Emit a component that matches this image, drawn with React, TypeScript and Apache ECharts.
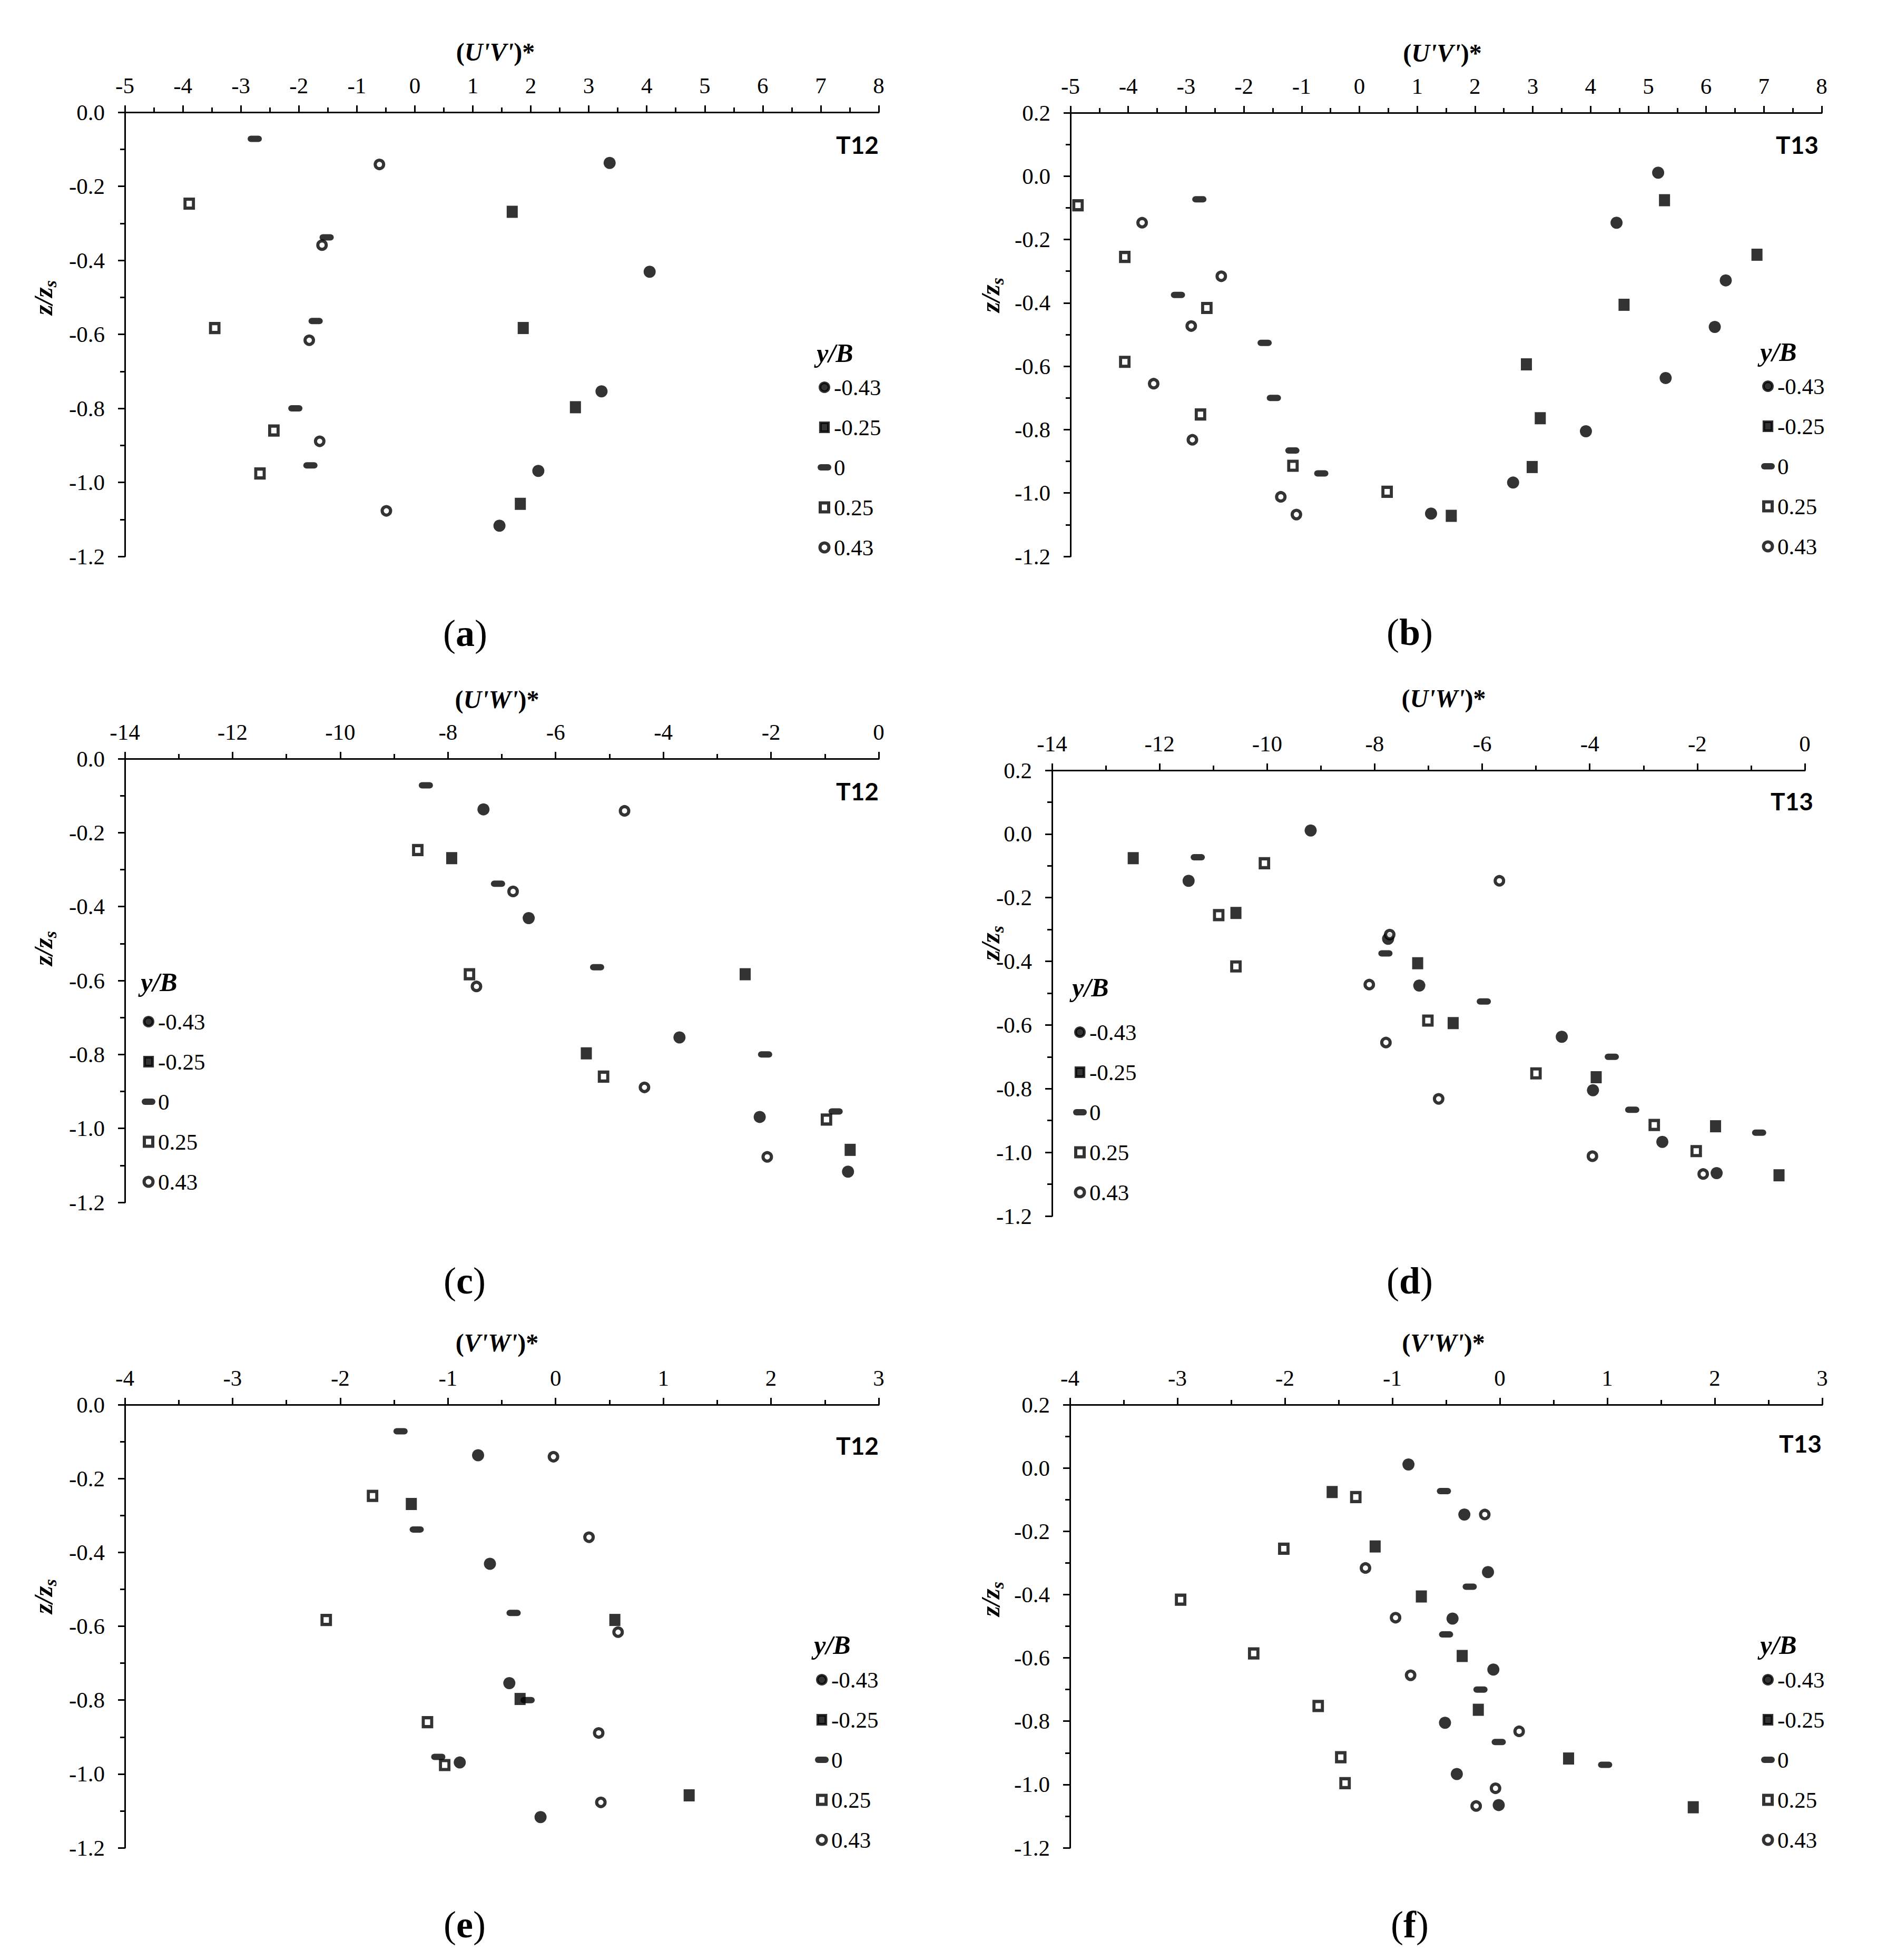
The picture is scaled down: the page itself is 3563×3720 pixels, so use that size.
import React, { useEffect, useRef } from "react";
import * as echarts from "echarts";

// ---------- data ----------
const YB = ["-0.43", "-0.25", "0", "0.25", "0.43"];

// z/zs of the measuring points, test T12 (one list per y/B)
const zT12_m043 = [-0.137, -0.431, -0.754, -0.969, -1.117];
const zT12_m025 = [-0.269, -0.583, -0.797, -1.058];
const zT12_000 = [-0.072, -0.338, -0.564, -0.8, -0.954];
const zT12_p025 = [-0.247, -0.583, -0.86, -0.976];
const zT12_p043 = [-0.141, -0.359, -0.616, -0.889, -1.077];

// z/zs of the measuring points, test T13
const zT13_m043 = [0.011, -0.147, -0.329, -0.476, -0.637, -0.805, -0.967, -1.065];
const zT13_m025 = [-0.076, -0.248, -0.406, -0.594, -0.764, -0.918, -1.072];
const zT13_000 = [-0.073, -0.375, -0.526, -0.7, -0.866, -0.938];
const zT13_p025 = [-0.092, -0.255, -0.416, -0.586, -0.752, -0.914, -0.996];
const zT13_p043 = [-0.147, -0.316, -0.473, -0.655, -0.832, -1.012, -1.068];

// (a) (U'V')* T12
const uvT12_m043 = [3.36, 4.05, 3.22, 2.13, 1.46];
const uvT12_m025 = [1.68, 1.87, 2.77, 1.82];
const uvT12_000 = [-2.76, -1.52, -1.71, -2.06, -1.8];
const uvT12_p025 = [-3.89, -3.45, -2.43, -2.67];
const uvT12_p043 = [-0.61, -1.6, -1.82, -1.64, -0.49];

// (b) (U'V')* T13
const uvT13_m043 = [5.17, 4.45, 6.34, 6.15, 5.3, 3.92, 2.66, 1.24];
const uvT13_m025 = [5.28, 6.88, 4.58, 2.89, 3.13, 2.99, 1.59];
const uvT13_000 = [-2.77, -3.14, -1.64, -1.48, -1.16, -0.66];
const uvT13_p025 = [-4.87, -4.06, -2.64, -4.06, -2.75, -1.15, 0.48];
const uvT13_p043 = [-3.76, -2.39, -2.91, -3.56, -2.89, -1.36, -1.09];

// (c) (U'W')* T12
const uwT12_m043 = [-7.34, -6.5, -3.7, -2.21, -0.57];
const uwT12_m025 = [-7.93, -2.48, -5.43, -0.53];
const uwT12_000 = [-8.41, -7.07, -5.23, -2.11, -0.8];
const uwT12_p025 = [-8.56, -7.6, -5.11, -0.97];
const uwT12_p043 = [-4.72, -6.79, -7.47, -4.35, -2.07];

// (d) (U'W')* T13
const uwT13_m043 = [-9.19, -11.46, -7.75, -7.17, -4.52, -3.94, -2.65, -1.64];
const uwT13_m025 = [-12.49, -10.58, -7.2, -6.54, -3.88, -1.66, -0.48];
const uwT13_000 = [-11.29, -7.8, -5.97, -3.59, -3.21, -0.85];
const uwT13_p025 = [-10.05, -10.9, -10.58, -7.01, -5.0, -2.8, -2.02];
const uwT13_p043 = [-5.68, -7.72, -8.1, -7.79, -6.81, -3.95, -1.89];

// (e) (V'W')* T12
const vwT12_m043 = [-0.72, -0.61, -0.43, -0.89, -0.14];
const vwT12_m025 = [-1.34, 0.55, -0.33, 1.24];
const vwT12_000 = [-1.44, -1.29, -0.39, -0.26, -1.09];
const vwT12_p025 = [-1.7, -2.13, -1.19, -1.03];
const vwT12_p043 = [-0.02, 0.31, 0.58, 0.4, 0.42];

// (f) (V'W')* T13
const vwT13_m043 = [-0.85, -0.33, -0.11, -0.44, -0.06, -0.51, -0.4, -0.01];
const vwT13_m025 = [-1.56, -1.16, -0.73, -0.35, -0.2, 0.64, 1.8];
const vwT13_000 = [-0.52, -0.28, -0.5, -0.18, -0.01, 0.98];
const vwT13_p025 = [-1.34, -2.01, -2.97, -2.29, -1.69, -1.48, -1.44];
const vwT13_p043 = [-0.14, -1.25, -0.97, -0.83, 0.18, -0.04, -0.22];

const zT12 = [zT12_m043, zT12_m025, zT12_000, zT12_p025, zT12_p043];
const zT13 = [zT13_m043, zT13_m025, zT13_000, zT13_p025, zT13_p043];

// ---------- styling / layout ----------
const SERIF = "'Liberation Serif', 'Times New Roman', serif";
const SANS = "Lato, 'Open Sans', sans-serif";
const DASH = "path://M6,0H20A6,6,0,0,1,20,12H6A6,6,0,0,1,6,0Z";

const markerStyles: any[] = [
  { symbol: "circle", symbolSize: 23, itemStyle: { color: "#000" } },
  { symbol: "rect", symbolSize: [21, 23], itemStyle: { color: "#000" } },
  { symbol: DASH, symbolSize: [27, 12], itemStyle: { color: "#000" } },
  { symbol: "rect", symbolSize: [16, 17], itemStyle: { color: "#fff", borderColor: "#000", borderWidth: 6 } },
  { symbol: "circle", symbolSize: 16, itemStyle: { color: "#fff", borderColor: "#000", borderWidth: 6 } },
];

const legendItems: any[] = [
  { name: "-0.43", icon: "circle", itemStyle: { color: "#000", borderColor: "#000", borderWidth: 5 } },
  { name: "-0.25", icon: "path://M0,0H18V20H0Z", itemStyle: { color: "#000", borderColor: "#000", borderWidth: 5 } },
  { name: "0", icon: DASH, itemStyle: { color: "#000", borderColor: "#000", borderWidth: 0 } },
  { name: "0.25", icon: "path://M0,0H16V17H0Z", itemStyle: { color: "#fff", borderColor: "#000", borderWidth: 6 } },
  { name: "0.43", icon: "circle", itemStyle: { color: "#fff", borderColor: "#000", borderWidth: 6 } },
];

const panels: any[] = [
  {
    sub: "a", xName: "U'V'", test: "T12", xMin: -5, xMax: 8, xStep: 1, yMax: 0,
    xs: [uvT12_m043, uvT12_m025, uvT12_000, uvT12_p025, uvT12_p043], zs: zT12,
    grid: [237, 213, 1431, 843], nameGap: 91, nameShift: -12,
    tag: [1668, 274], subPos: [883, 1202], yLab: [82, 565],
    leg: [1552, 713.5], legTitle: [1585, 670],
  },
  {
    sub: "b", xName: "U'V'", test: "T13", xMin: -5, xMax: 8, xStep: 1, yMax: 0.2,
    xs: [uvT13_m043, uvT13_m025, uvT13_000, uvT13_p025, uvT13_p043], zs: zT13,
    grid: [2032, 214, 1426, 842], nameGap: 90, nameShift: -7,
    tag: [3452, 274], subPos: [2676, 1200], yLab: [1880, 560],
    leg: [3343, 711.5], legTitle: [3376, 668],
  },
  {
    sub: "c", xName: "U'W'", test: "T12", xMin: -14, xMax: 0, xStep: 2, yMax: 0,
    xs: [uwT12_m043, uwT12_m025, uwT12_000, uwT12_p025, uwT12_p043], zs: zT12,
    grid: [237, 1440, 1431, 842], nameGap: 89, nameShift: -9,
    tag: [1668, 1501], subPos: [882, 2431], yLab: [82, 1800],
    leg: [269, 1917.5], legTitle: [302, 1864],
  },
  {
    sub: "d", xName: "U'W'", test: "T13", xMin: -14, xMax: 0, xStep: 2, yMax: 0.2,
    xs: [uwT13_m043, uwT13_m025, uwT13_000, uwT13_p025, uwT13_p043], zs: zT13,
    grid: [1997, 1462, 1429, 846], nameGap: 113, nameShift: 29,
    tag: [3442, 1520], subPos: [2676, 2431], yLab: [1880, 1790],
    leg: [2037, 1937.5], legTitle: [2070, 1874],
  },
  {
    sub: "e", xName: "V'W'", test: "T12", xMin: -4, xMax: 3, xStep: 1, yMax: 0,
    xs: [vwT12_m043, vwT12_m025, vwT12_000, vwT12_p025, vwT12_p043], zs: zT12,
    grid: [237, 2666, 1431, 841], nameGap: 94, nameShift: -9,
    tag: [1668, 2743], subPos: [882, 3653], yLab: [82, 3030],
    leg: [1547, 3166.5], legTitle: [1580, 3122],
  },
  {
    sub: "f", xName: "V'W'", test: "T13", xMin: -4, xMax: 3, xStep: 1, yMax: 0.2,
    xs: [vwT13_m043, vwT13_m025, vwT13_000, vwT13_p025, vwT13_p043], zs: zT13,
    grid: [2031, 2666, 1428, 841], nameGap: 94, nameShift: -5,
    tag: [3458, 2739], subPos: [2676, 3653], yLab: [1880, 3035],
    leg: [3343, 3166.5], legTitle: [3376, 3122],
  },
];

function buildOption() {
  const axisLineStyle = { color: "#000", width: 3 };
  const labelStyle = { fontSize: 43, fontFamily: SERIF, color: "#000", lineHeight: 43 };

  const grid = panels.map((p) => ({
    left: p.grid[0], top: p.grid[1], width: p.grid[2], height: p.grid[3], containLabel: false,
  }));

  const xAxis = panels.map((p, i) => ({
    gridIndex: i, type: "value", position: "top",
    min: p.xMin, max: p.xMax, interval: p.xStep,
    axisLine: { show: true, onZero: false, lineStyle: axisLineStyle },
    axisTick: { show: true, inside: false, length: 13, lineStyle: axisLineStyle },
    minorTick: { show: true, splitNumber: 2, length: 9, lineStyle: axisLineStyle },
    splitLine: { show: false }, minorSplitLine: { show: false },
    axisLabel: { ...labelStyle, margin: 29, formatter: (v: number) => String(Math.round(v)) },
    name: "{p|(}{i|" + p.xName + "}{p|)*}",
    nameLocation: "middle", nameGap: p.nameGap,
    nameTextStyle: {
      padding: p.nameShift < 0 ? [0, -2 * p.nameShift, 0, 0] : [0, 0, 0, 2 * p.nameShift],
      rich: {
        p: { fontSize: 48, fontFamily: SERIF, fontWeight: "bold", color: "#000", lineHeight: 48 },
        i: { fontSize: 48, fontFamily: SERIF, fontWeight: "bold", fontStyle: "italic", color: "#000", lineHeight: 48 },
      },
    },
  }));

  const yAxis = panels.map((p, i) => ({
    gridIndex: i, type: "value", position: "left",
    min: -1.2, max: p.yMax, interval: 0.2,
    axisLine: { show: true, onZero: false, lineStyle: axisLineStyle },
    axisTick: { show: true, inside: false, length: 13, lineStyle: axisLineStyle },
    minorTick: { show: true, splitNumber: 2, length: 9, lineStyle: axisLineStyle },
    splitLine: { show: false }, minorSplitLine: { show: false },
    axisLabel: {
      ...labelStyle, margin: 38,
      formatter: (v: number) => (Math.abs(v) < 1e-9 ? "0.0" : v.toFixed(1)),
    },
  }));

  const series: any[] = [];
  panels.forEach((p, i) => {
    YB.forEach((name, k) => {
      series.push({
        type: "scatter", name, xAxisIndex: i, yAxisIndex: i,
        data: p.xs[k].map((x: number, j: number) => [x, p.zs[k][j]]),
        symbol: markerStyles[k].symbol, symbolSize: markerStyles[k].symbolSize,
        itemStyle: markerStyles[k].itemStyle,
        silent: true, emphasis: { disabled: true }, z: 2 + k,
      });
    });
  });

  const legend = panels.map((p) => ({
    orient: "vertical", left: p.leg[0], top: p.leg[1], padding: 0,
    itemGap: 33, itemWidth: 26, itemHeight: 17, itemTextGap: 8,
    symbolKeepAspect: true, selectedMode: false,
    textStyle: { fontSize: 43, fontFamily: SERIF, color: "#000", lineHeight: 43 },
    data: legendItems,
  }));

  const graphic: any[] = [];
  panels.forEach((p) => {
    // legend title
    graphic.push({
      type: "text", x: p.legTitle[0], y: p.legTitle[1], silent: true,
      style: {
        text: "y/B", fontSize: 50, fontFamily: SERIF, fontWeight: "bold", fontStyle: "italic",
        fill: "#000", align: "center", verticalAlign: "middle", textAlign: "center", textVerticalAlign: "middle",
      },
    });
    // test tag
    graphic.push({
      type: "text", x: p.tag[0], y: p.tag[1], silent: true,
      style: {
        text: p.test, fontSize: 46, fontFamily: SANS, fontWeight: "bold", fill: "#000",
        align: "right", verticalAlign: "middle", textAlign: "right", textVerticalAlign: "middle",
      },
    });
    // sub-figure label
    graphic.push({
      type: "text", x: p.subPos[0], y: p.subPos[1], silent: true,
      style: {
        text: "{r|(}{b|" + p.sub + "}{r|)}",
        align: "center", verticalAlign: "middle", textAlign: "center", textVerticalAlign: "middle",
        rich: {
          r: { fontSize: 72, fontFamily: SERIF, fill: "#000", lineHeight: 80 },
          b: { fontSize: 72, fontFamily: SERIF, fontWeight: "bold", fill: "#000", lineHeight: 80 },
        },
      },
    });
    // y axis title z/zs
    graphic.push({
      type: "text", x: p.yLab[0], y: p.yLab[1], rotation: Math.PI / 2, silent: true,
      style: {
        text: "{i|z/z}{s|s}",
        align: "center", verticalAlign: "middle", textAlign: "center", textVerticalAlign: "middle",
        rich: {
          i: { fontSize: 50, fontFamily: SERIF, fontWeight: "bold", fontStyle: "italic", fill: "#000", lineHeight: 60 },
          s: {
            fontSize: 34, fontFamily: SERIF, fontWeight: "bold", fontStyle: "italic", fill: "#000",
            lineHeight: 34, verticalAlign: "bottom",
          },
        },
      },
    });
  });

  return {
    animation: false,
    backgroundColor: "#ffffff",
    grid, xAxis, yAxis, series, legend, graphic,
  };
}

export default function App() {
  const ref = useRef<HTMLDivElement>(null);
  useEffect(() => {
    if (!ref.current) return;
    const chart = echarts.init(ref.current, undefined, { renderer: "svg" });
    chart.setOption(buildOption() as any);
    return () => chart.dispose();
  }, []);
  return (
    <div
      ref={ref}
      style={{ position: "absolute", left: 0, top: 0, width: 3563, height: 3720, background: "#fff" }}
    />
  );
}
